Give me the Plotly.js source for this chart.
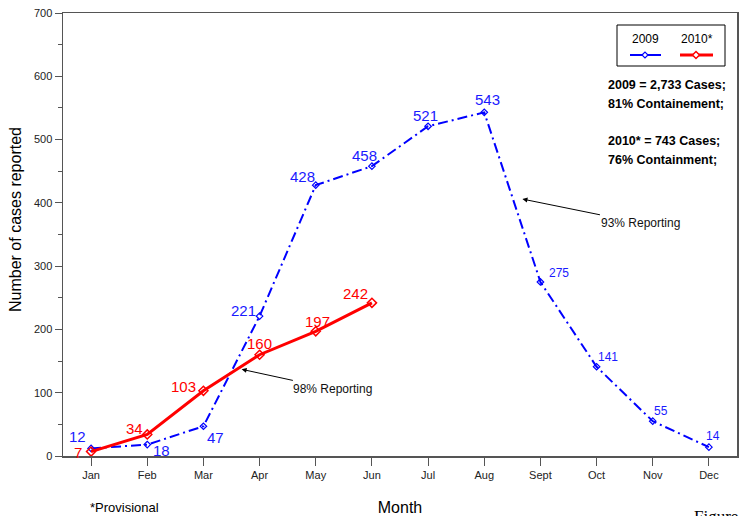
<!DOCTYPE html>
<html><head><meta charset="utf-8">
<script src="https://cdn.plot.ly/plotly-3.0.1.min.js"></script>
<style>html,body{margin:0;padding:0;background:#fff}#chart{width:741px;height:516px}</style>
</head><body><div id="chart"></div>
<script>
// ---- data ----
const months = ["Jan","Feb","Mar","Apr","May","Jun","Jul","Aug","Sept","Oct","Nov","Dec"];
const cases2009 = [12,18,47,221,428,458,521,543,275,141,55,14];
const cases2010 = [7,34,103,160,197,242];
const seriesNames = ["2009","2010*"];
const summaryLines = ["2009 = 2,733 Cases;","81% Containement;","","2010* = 743 Cases;","76% Containment;"];

// ---- label offsets (pixels) & sizes (style only) ----
const off2009 = [[-14,-12],[14,6],[12,11],[-16,-6],[-13,-9],[-7,-11],[-3,-11],[3,-13],[19,-9],[11,-10],[8,-10],[4,-11]];
const size2009 = [15,15,15,15,15,15,15,15,12,12,12,12];
const off2010 = [[-13,1],[-13,-6],[-20,-4],[0,-11],[2,-10],[-16,-9]];

const BLUE = "#0000ff", RED = "#ff0000";
const idx = months.map((m,i)=>i);

const traces = [
  {x: idx, y: cases2009, type:"scatter", mode:"lines+markers", name:seriesNames[0],
   line:{color:BLUE, width:2, dash:"10px,4px,2px,4px"},
   marker:{symbol:"diamond-open", size:5, color:BLUE, line:{width:1.2}}},
  {x: idx.slice(0,cases2010.length), y: cases2010, type:"scatter", mode:"lines+markers", name:seriesNames[1],
   line:{color:RED, width:3},
   marker:{symbol:"diamond-open", size:7, color:RED, line:{width:1.5}}}
];

const ann = [];
cases2009.forEach((v,i)=>ann.push({x:i,y:v,xref:"x",yref:"y",text:String(v),showarrow:false,
  xshift:off2009[i][0],yshift:-off2009[i][1],font:{family:"Arial, Liberation Sans",size:size2009[i],color:"#1a1aff"}}));
cases2010.forEach((v,i)=>ann.push({x:i,y:v,xref:"x",yref:"y",text:String(v),showarrow:false,
  xshift:off2010[i][0],yshift:-off2010[i][1],font:{family:"Arial, Liberation Sans",size:15,color:RED}}));

// reporting arrows
ann.push({x:2.68,y:137,ax:4.29,ay:106,axref:"x",ayref:"y",xref:"x",yref:"y",text:"98% Reporting",
  showarrow:true,arrowhead:2,arrowsize:1,arrowwidth:1,arrowcolor:"#000",standoff:0,
  font:{family:"Arial, Liberation Sans",size:12,color:"#111"}});
ann.push({x:7.68,y:406,ax:9.79,ay:368,axref:"x",ayref:"y",xref:"x",yref:"y",text:"93% Reporting",
  showarrow:true,arrowhead:2,arrowsize:1,arrowwidth:1,arrowcolor:"#000",standoff:0,
  font:{family:"Arial, Liberation Sans",size:12,color:"#111"}});

// summary text
const sumY = [85,104,0,141,160];
summaryLines.forEach((t,i)=>{ if(!t) return;
  ann.push({xref:"paper",yref:"paper",x:(606-63)/674,y:(456-sumY[i])/443,xanchor:"left",yanchor:"middle",
    text:"<b>"+t+"</b>",showarrow:false,font:{family:"Arial, Liberation Sans",size:12.5,color:"#000"}});
});

// legend labels
ann.push({xref:"paper",yref:"paper",x:(645-63)/674,y:(456-39)/443,xanchor:"center",yanchor:"middle",text:seriesNames[0],showarrow:false,
  font:{family:"Arial, Liberation Sans",size:12,color:"#000"}});
ann.push({xref:"paper",yref:"paper",x:(697-63)/674,y:(456-39)/443,xanchor:"center",yanchor:"middle",text:seriesNames[1],showarrow:false,
  font:{family:"Arial, Liberation Sans",size:12,color:"#000"}});

// y-axis title
ann.push({xref:"paper",yref:"paper",x:(15-63)/674,y:(456-220)/443,xanchor:"center",yanchor:"middle",textangle:-90,
  text:"Number of cases reported",showarrow:false,font:{family:"Arial, Liberation Sans",size:16,color:"#000"}});

// footer texts
ann.push({xref:"paper",yref:"paper",x:(88-63)/674,y:-(507-456)/443,xanchor:"left",yanchor:"middle",
  text:"*Provisional",showarrow:false,font:{family:"Arial, Liberation Sans",size:13,color:"#000"}});
ann.push({xref:"paper",yref:"paper",x:(692-63)/674,y:-(516-456)/443,xanchor:"left",yanchor:"middle",
  text:"Figure 1",showarrow:false,font:{family:"Liberation Serif, DejaVu Serif",size:17,color:"#000"}});

const px = v=>(v-63)/674, py = v=>(456-v)/443;
const shapes = [
  {type:"rect",xref:"paper",yref:"paper",x0:px(617),x1:px(725),y0:py(66),y1:py(25),line:{color:"#000",width:1},fillcolor:"#fff",layer:"below"},
  {type:"line",xref:"paper",yref:"paper",x0:px(630),x1:px(661),y0:py(55),y1:py(55),line:{color:BLUE,width:2}},
  {type:"line",xref:"paper",yref:"paper",x0:px(680),x1:px(713),y0:py(55),y1:py(55),line:{color:RED,width:3}},
  {type:"path",xref:"paper",yref:"paper",xsizemode:"pixel",ysizemode:"pixel",xanchor:px(645),yanchor:py(55),
   path:"M-3,0 L0,3 L3,0 L0,-3 Z",line:{color:BLUE,width:1.2},fillcolor:"#fff"},
  {type:"path",xref:"paper",yref:"paper",xsizemode:"pixel",ysizemode:"pixel",xanchor:px(696),yanchor:py(55),
   path:"M-3.5,0 L0,3.5 L3.5,0 L0,-3.5 Z",line:{color:RED,width:1.5},fillcolor:"#fff"}
];

const layout = {
  width:741,height:516,margin:{l:63,r:4,t:13,b:60},
  paper_bgcolor:"#fff",plot_bgcolor:"#fff",showlegend:false,
  font:{family:"Arial, Liberation Sans",color:"#222"},
  xaxis:{range:[-0.5,11.5],tickvals:idx,ticktext:months,ticks:"outside",ticklen:8,tickcolor:"#555",
    showline:true,linecolor:"#555",linewidth:1.5,mirror:true,showgrid:false,zeroline:false,
    tickfont:{size:11,color:"#222"},
    title:{text:"Month",font:{size:16,color:"#000"},standoff:22}},
  yaxis:{range:[0,700],dtick:100,ticks:"outside",ticklen:7,tickcolor:"#555",
    minor:{ticks:"outside",dtick:50,ticklen:4,tickcolor:"#555"},
    showline:true,linecolor:"#555",linewidth:1.5,mirror:true,showgrid:false,zeroline:false,
    tickfont:{size:11,color:"#222"}},
  annotations:ann, shapes:shapes
};
Plotly.newPlot("chart",traces,layout,{displayModeBar:false,staticPlot:true});
</script></body></html>
